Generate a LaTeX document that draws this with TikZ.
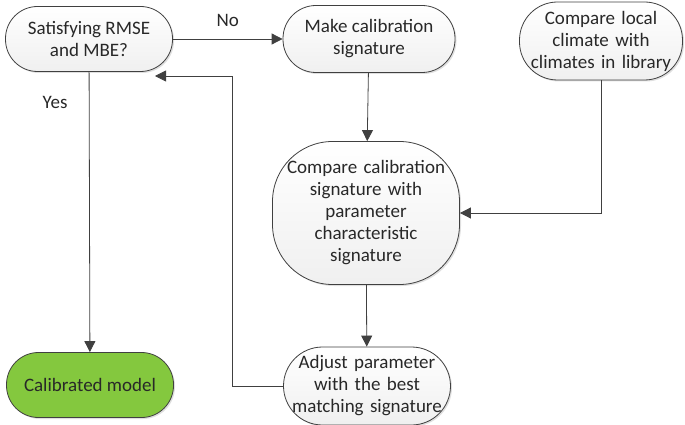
\documentclass[tikz,border=0pt]{standalone}
\usepackage{fontspec}
\setmainfont{Carlito}
\usepackage{tikz}
\usetikzlibrary{arrows.meta,shadows}
\definecolor{linegray}{RGB}{64,64,64}
\definecolor{textgray}{RGB}{40,40,40}
\definecolor{calgreen}{RGB}{132,200,62}

\begin{document}
\begin{tikzpicture}[x=1pt,y=-1pt,
  every node/.style={text=textgray,font=\fontsize{19}{22}\selectfont},
  box/.style={draw=linegray,thick,align=center,inner sep=1pt,
    top color=white,bottom color=gray!12,
    drop shadow={shadow xshift=1.5pt,shadow yshift=-1.5pt,opacity=0.25}},
  link/.style={linegray,thick,-{Triangle[width=11pt,length=11pt]}}]
\useasboundingbox (0,0) rectangle (685,425);
%Boxes
\node[box,rounded corners=32pt,minimum width=167pt,minimum height=65pt] (rmse) at (89,39) {Satisfying RMSE\\and MBE?};
\node[box,rounded corners=33pt,minimum width=172pt,minimum height=67pt] (sig) at (369,39) {Make calibration\\signature};
\node[box,rounded corners=38pt,minimum width=163pt,minimum height=78pt,text width=160pt] (climate) at (601,41) {Compare local\\climate with\\climates in library};
\node[box,rounded corners=60pt,minimum width=187pt,minimum height=143pt,text width=185pt] (compare) at (366,213) {Compare calibration\\signature with\\parameter\\characteristic\\signature};
\node[box,rounded corners=39pt,minimum width=167pt,minimum height=78pt,text width=165pt] (adjust) at (367,386) {Adjust parameter\\with the best\\matching signature};
\node[box,rounded corners=32pt,minimum width=167pt,minimum height=65pt,top color=calgreen,bottom color=calgreen] (model) at (90,385) {Calibrated model};
\coordinate (back) at (155,76);
%Connectors
\draw[link] (rmse) -- (sig) node[midway,above=9pt] {No};
\draw[link] (rmse) -- (model) node[pos=0.11,left=18pt] {Yes};
\draw[link] (sig) -- (compare);
\draw[link] (compare) -- (adjust);
\draw[link] (climate.south) |- (compare.east);
\draw[link] (adjust.west) -| (232,76) -- (back);
\end{tikzpicture}
\end{document}
